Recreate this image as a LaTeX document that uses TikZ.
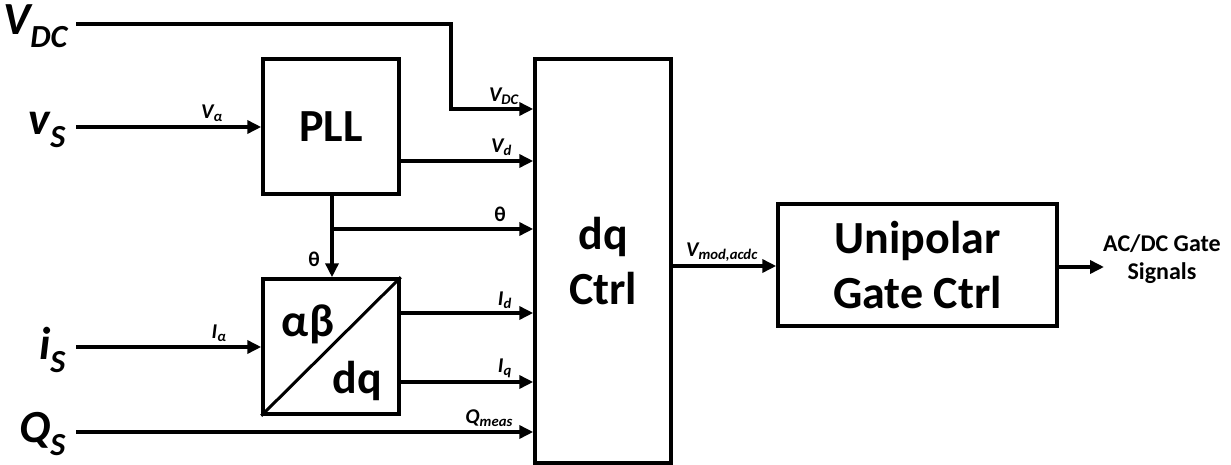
\documentclass[tikz,border=0pt]{standalone}
\usepackage{fontspec}
\setmainfont{Carlito}
\usetikzlibrary{arrows.meta}
\tikzset{
  blk/.style={draw, line width=3.5pt, inner sep=0pt, align=center,
    font=\bfseries\fontsize{46}{55}\selectfont},
  wire/.style={line width=3.5pt},
  sig/.style={line width=3.5pt, -{Triangle[length=14pt,width=13pt]}},
  big/.style={inner sep=0pt, font=\bfseries\itshape\fontsize{46}{50}\selectfont},
  lbl/.style={inner sep=0pt, font=\bfseries\itshape\fontsize{21}{24}\selectfont},
  ulbl/.style={inner sep=0pt, font=\bfseries\fontsize{21}{24}\selectfont},
}
\begin{document}
\begin{tikzpicture}[x=1pt,y=-1pt]
\useasboundingbox (0,0) rectangle (1231,465);

% blocks
\node[blk, minimum width=136pt, minimum height=135pt] (pll) at (331,126.5) {PLL};
\node[blk, minimum width=136pt, minimum height=135pt] (ab) at (331,346.5) {};
\draw[line width=3pt] (ab.south west) -- (ab.north east);
\node[inner sep=0pt, font=\bfseries\fontsize{46}{50}\selectfont] (abtxt) at (308,324) {αβ};
\node[inner sep=0pt, font=\bfseries\fontsize{46}{50}\selectfont] (dqtxt) at (357,381) {dq};
\node[blk, minimum width=136pt, minimum height=404pt] (dq) at (603,261) {dq\\Ctrl};
\node[blk, minimum width=279pt, minimum height=122pt] (up) at (917.5,265) {Unipolar\\Gate Ctrl};

% input labels
\node[big, anchor=east] (VDC) at (68,26) {V\textsubscript{DC}};
\node[big, anchor=east] (vs) at (66,130) {v\textsubscript{S}};
\node[big, anchor=east] (is) at (66,350) {i\textsubscript{S}};
\node[big, anchor=east] (Qs) at (66,434) {Q\textsubscript{S}};

% free ends
\coordinate (vdc0) at (76,24);
\coordinate (vs0) at (76,127);
\coordinate (is0) at (76,347);
\coordinate (qs0) at (76,432);
\coordinate (th0) at (332,229);
\coordinate (out1) at (1104,267);

% connectors
\draw[sig] (vdc0) -| (451,109) -- (dq.west |- 451,109);
\draw[sig] (vs0) -- (pll.west |- vs0);
\draw[sig] (pll.east |- 0,161) -- (dq.west |- 0,161);
\draw[wire] (pll.south -| th0) -- (th0);
\draw[sig] (th0) -- (ab.north -| th0);
\draw[sig] (th0) -- (dq.west |- th0);
\draw[sig] (is0) -- (ab.west |- is0);
\draw[sig] (ab.east |- 0,313) -- (dq.west |- 0,313);
\draw[sig] (ab.east |- 0,382) -- (dq.west |- 0,382);
\draw[sig] (qs0) -- (dq.west |- qs0);
\draw[sig] (dq.east |- 0,266) -- (up.west |- 0,266);
\draw[sig] (up.east |- out1) -- (out1);

% signal labels
\node[lbl, anchor=south east] (lvdc) at (519,105) {V\textsubscript{DC}};
\node[lbl, anchor=south east] (lvd) at (512,156) {V\textsubscript{d}};
\node[ulbl, anchor=south] (lth) at (500,222) {θ};
\node[lbl, anchor=south] (lva) at (212,122) {V\textsubscript{α}};
\node[ulbl, anchor=center] (lth2) at (314,259) {θ};
\node[lbl, anchor=south] (lia) at (219,342) {I\textsubscript{α}};
\node[lbl, anchor=south east] (lid) at (512,309) {I\textsubscript{d}};
\node[lbl, anchor=south east] (liq) at (512,378) {I\textsubscript{q}};
\node[lbl, anchor=south east] (lqm) at (513,427) {Q\textsubscript{meas}};
\node[lbl, anchor=south] (lvm) at (722,262) {V\textsubscript{mod,acdc}};
\node[ulbl, align=center, font=\bfseries\fontsize{24}{28}\selectfont] (outtxt) at (1162,259) {AC/DC Gate\\Signals};
\end{tikzpicture}
\end{document}
